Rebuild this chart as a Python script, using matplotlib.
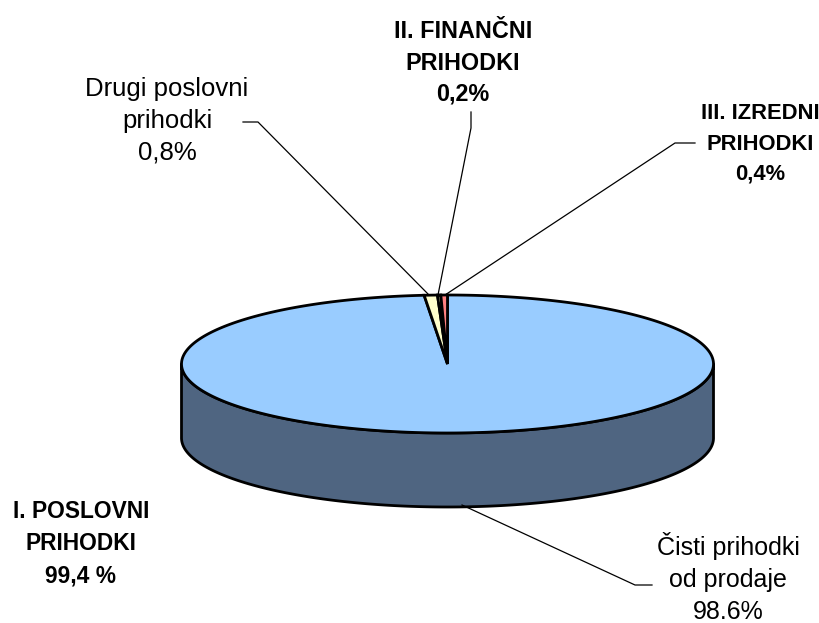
import numpy as np
import matplotlib
matplotlib.use("Agg")
import matplotlib.pyplot as plt

# Data
categories = ["Čisti prihodki\nod prodaje\n98.6%", "Drugi poslovni\nprihodki\n0,8%",
              "II. FINANČNI\nPRIHODKI\n0,2%", "III. IZREDNI\nPRIHODKI\n0,4%"]
values = [98.6, 0.8, 0.2, 0.4]
top_colors = ["#99CCFF", "#FFFFCC", "#FFFFCC", "#FF8080"]
side_colors = ["#4F6581", "#807F66", "#807F66", "#804040"]
group_label = "I. POSLOVNI\nPRIHODKI\n99,4 %"

CX, CY, RX, RY, DEPTH = 447.5, 364, 266, 69, 74

plt.rcParams["font.family"] = ["Liberation Sans", "DejaVu Sans"]
fig = plt.figure(figsize=(8.2, 6.23), dpi=100)
ax = fig.add_axes([0, 0, 1, 1])
ax.set_xlim(0, 820)
ax.set_ylim(623, 0)
ax.axis("off")

def px(t):
    return CX + RX * np.sin(t)
def py(t, dz=0):
    return CY - RY * np.cos(t) + dz

edges = np.cumsum([0] + values) / sum(values) * 2 * np.pi

# Side wall: the visible front half of each slice
for i, v in enumerate(values):
    a, b = max(edges[i], np.pi / 2), min(edges[i + 1], 3 * np.pi / 2)
    if b <= a:
        continue
    t = np.linspace(a, b, 300)
    xs = np.r_[px(t), px(t[::-1])]
    ys = np.r_[py(t), py(t[::-1], DEPTH)]
    ax.fill(xs, ys, fc=side_colors[i], ec="black", lw=2, joinstyle="round", zorder=2)

# Top face
for i, v in enumerate(values):
    t = np.linspace(edges[i], edges[i + 1], max(int(v * 6), 4))
    xs = np.r_[CX, px(t)]
    ys = np.r_[CY, py(t)]
    ax.fill(xs, ys, fc=top_colors[i], ec="black", lw=2, joinstyle="miter", zorder=3)

# Leader lines
leaders = [
    ([652, 635, 462], [585, 585, 505]),
    ([243, 258, 429], [122, 122, 295]),
    ([471, 471, 438], [112, 128, 295]),
    ([695, 675, 445], [143, 143, 295]),
]
for lx, ly in leaders:
    ax.plot(lx, ly, color="black", lw=0.9, zorder=4)

# Labels
reg = dict(ha="center", va="center", color="black", linespacing=1.42)
bold = dict(ha="center", va="center", color="black", fontweight="bold")
ax.text(728, 578, categories[0], fontsize=18, **reg)
ax.text(167, 121, categories[1], fontsize=18.5, **reg)
ax.text(463, 63, categories[2], fontsize=16.8, linespacing=1.47, **bold)
ax.text(760, 144, categories[3], fontsize=15.8, linespacing=1.58, **bold)
ax.text(81, 544, group_label, fontsize=16.4, linespacing=1.5, **bold)

fig.savefig("out.png", dpi=100, facecolor="white")
